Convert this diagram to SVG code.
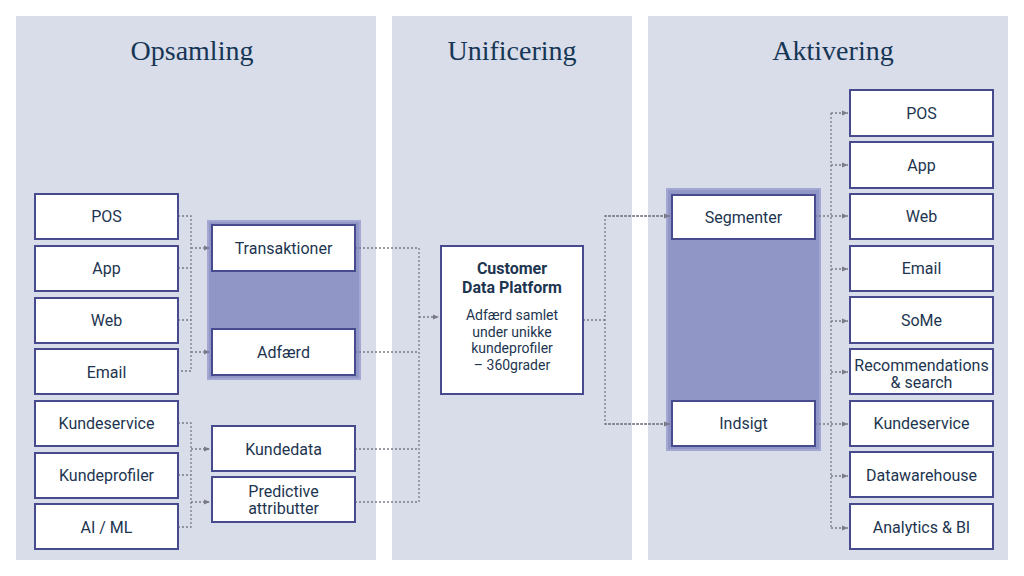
<svg xmlns="http://www.w3.org/2000/svg" width="1024" height="576" viewBox="0 0 1024 576">
<style>
.panel{fill:#d9dce9}
.title{font-family:"Liberation Serif","DejaVu Serif",serif;font-size:28px;fill:#163656;text-anchor:middle}
.box{fill:#ffffff;stroke:#474b8e;stroke-width:2}
.grp{fill:#9096c6;stroke:#a3a8d2;stroke-width:2}
.t{font-family:Roboto,"Liberation Sans",sans-serif;font-size:16px;fill:#1d3550;text-anchor:middle}
.tb{font-family:Roboto,"Liberation Sans",sans-serif;font-size:16px;font-weight:bold;fill:#1d3550;text-anchor:middle}
.ts{font-family:Roboto,"Liberation Sans",sans-serif;font-size:14px;fill:#1d3550;text-anchor:middle}
.c{fill:none;stroke:#7a7a88;stroke-width:1.3;stroke-dasharray:2 2}
.a{fill:none;stroke:#7a7a88;stroke-width:1.3;stroke-dasharray:2 2;marker-end:url(#ah)}
</style>
<defs>
<marker id="ah" viewBox="0 0 6 6" refX="6" refY="3" markerWidth="6" markerHeight="6" markerUnits="userSpaceOnUse" orient="auto">
<path d="M0,0.5 L6,3 L0,5.5 z" fill="#7a7a88"/>
</marker>
</defs>
<rect width="1024" height="576" fill="#ffffff"/>
<g id="panels">
<rect class="panel" x="16" y="16" width="360" height="544"/>
<rect class="panel" x="392" y="16" width="240" height="544"/>
<rect class="panel" x="648" y="16" width="360" height="544"/>
<text class="title" x="192" y="60">Opsamling</text>
<text class="title" x="512" y="60">Unificering</text>
<text class="title" x="833" y="60">Aktivering</text>
</g>
<g id="groups">
<rect class="grp" x="208" y="221" width="152" height="158"/>
<rect class="grp" x="667" y="189" width="153" height="261"/>
</g>
<g id="connectors">
<path class="c" d="M178,216 H191 V371 H178"/>
<path class="c" d="M178,268 H191 M178,320 H191"/>
<path class="a" d="M191,248 H210"/>
<path class="a" d="M191,352 H210"/>
<path class="c" d="M178,423 H191 V527 H178"/>
<path class="c" d="M178,475 H191"/>
<path class="a" d="M191,449 H210"/>
<path class="a" d="M191,502 H210"/>
<path class="c" d="M355,248 H419 V502 H355"/>
<path class="c" d="M355,352 H419 M355,449 H419"/>
<path class="a" d="M419,317 H439"/>
<path class="c" d="M583,320 H605"/>
<path class="c" d="M670,216 H605 V424 H670"/>
<path class="a" d="M605,216 H670"/>
<path class="a" d="M605,424 H670"/>
<path class="c" d="M815,216 H831 M815,424 H831"/>
<path class="c" d="M831,113 V527"/>
<path class="a" d="M831,113 H848"/>
<path class="a" d="M831,165 H848"/>
<path class="a" d="M831,216 H848"/>
<path class="a" d="M831,269 H848"/>
<path class="a" d="M831,321 H848"/>
<path class="a" d="M831,372 H848"/>
<path class="a" d="M831,424 H848"/>
<path class="a" d="M831,476 H848"/>
<path class="a" d="M831,528 H848"/>
</g>
<g id="n-pos-in"><rect class="box" x="35" y="194" width="143" height="45"/><text class="t" x="106.5" y="222">POS</text></g>
<g id="n-app-in"><rect class="box" x="35" y="246" width="143" height="45"/><text class="t" x="106.5" y="274">App</text></g>
<g id="n-web-in"><rect class="box" x="35" y="298" width="143" height="45"/><text class="t" x="106.5" y="326">Web</text></g>
<g id="n-email-in"><rect class="box" x="35" y="349" width="143" height="45"/><text class="t" x="106.5" y="378">Email</text></g>
<g id="n-kundeservice-in"><rect class="box" x="35" y="401" width="143" height="45"/><text class="t" x="106.5" y="429">Kundeservice</text></g>
<g id="n-kundeprofiler"><rect class="box" x="35" y="453" width="143" height="45"/><text class="t" x="106.5" y="481">Kundeprofiler</text></g>
<g id="n-aiml"><rect class="box" x="35" y="504" width="143" height="45"/><text class="t" x="106.5" y="533">AI / ML</text></g>
<g id="n-transaktioner"><rect class="box" x="212" y="225" width="143" height="46"/><text class="t" x="283.5" y="254">Transaktioner</text></g>
<g id="n-adfaerd"><rect class="box" x="212" y="329" width="143" height="46"/><text class="t" x="283.5" y="358">Adfærd</text></g>
<g id="n-kundedata"><rect class="box" x="212" y="426" width="143" height="45"/><text class="t" x="283.5" y="455">Kundedata</text></g>
<g id="n-predictive"><rect class="box" x="212" y="477" width="143" height="45"/><text class="t" x="283.5" y="497">Predictive</text><text class="t" x="283.5" y="514">attributter</text></g>
<g id="n-cdp"><rect class="box" x="441" y="246" width="142" height="148"/>
<text class="tb" x="512" y="274">Customer</text>
<text class="tb" x="512" y="293">Data Platform</text>
<text class="ts" x="512" y="320">Adfærd samlet</text>
<text class="ts" x="512" y="337">under unikke</text>
<text class="ts" x="512" y="353">kundeprofiler</text>
<text class="ts" x="512" y="370">– 360grader</text></g>
<g id="n-segmenter"><rect class="box" x="672" y="195" width="143" height="44"/><text class="t" x="743.5" y="223">Segmenter</text></g>
<g id="n-indsigt"><rect class="box" x="672" y="401" width="143" height="45"/><text class="t" x="743.5" y="429">Indsigt</text></g>
<g id="n-pos-out"><rect class="box" x="850" y="90" width="143" height="46"/><text class="t" x="921.5" y="119">POS</text></g>
<g id="n-app-out"><rect class="box" x="850" y="142" width="143" height="46"/><text class="t" x="921.5" y="171">App</text></g>
<g id="n-web-out"><rect class="box" x="850" y="194" width="143" height="45"/><text class="t" x="921.5" y="222">Web</text></g>
<g id="n-email-out"><rect class="box" x="850" y="246" width="143" height="45"/><text class="t" x="921.5" y="274">Email</text></g>
<g id="n-some"><rect class="box" x="850" y="297" width="143" height="46"/><text class="t" x="921.5" y="326">SoMe</text></g>
<g id="n-reco"><rect class="box" x="850" y="349" width="143" height="45"/><text class="t" x="921.5" y="371">Recommendations</text><text class="t" x="921.5" y="388">&amp; search</text></g>
<g id="n-kundeservice-out"><rect class="box" x="850" y="401" width="143" height="45"/><text class="t" x="921.5" y="429">Kundeservice</text></g>
<g id="n-dwh"><rect class="box" x="850" y="452" width="143" height="45"/><text class="t" x="921.5" y="481">Datawarehouse</text></g>
<g id="n-analytics"><rect class="box" x="850" y="504" width="143" height="45"/><text class="t" x="921.5" y="533">Analytics &amp; BI</text></g>
</svg>
